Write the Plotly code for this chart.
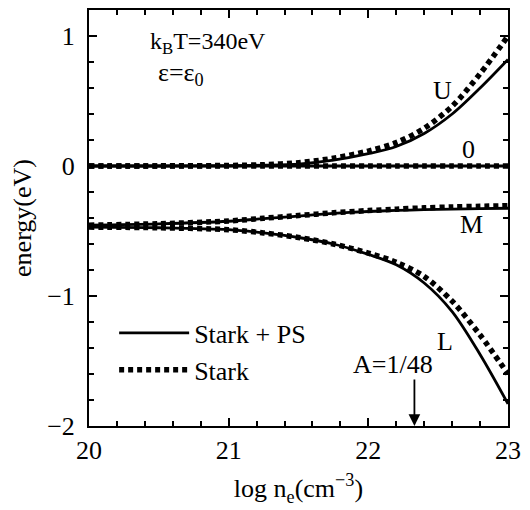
import plotly.graph_objects as go

# log electron density grid (cm^-3)
log_ne = [20.0, 20.5, 21.0, 21.25, 21.5, 21.75, 22.0, 22.2, 22.4, 22.6, 22.8, 23.0]

# Stark + PS (solid)
U_ps = [0.0, 0.0, 0.002, 0.006, 0.015, 0.045, 0.095, 0.15, 0.25, 0.40, 0.60, 0.82]
Z_ps = [0.0] * 12
M_ps = [-0.455, -0.445, -0.425, -0.405, -0.385, -0.365, -0.35, -0.342, -0.336, -0.332, -0.328, -0.325]
L_ps = [-0.47, -0.475, -0.49, -0.515, -0.55, -0.60, -0.68, -0.76, -0.90, -1.12, -1.45, -1.83]

# Stark only (dotted)
U_st = [0.0, 0.001, 0.004, 0.01, 0.025, 0.06, 0.115, 0.18, 0.29, 0.46, 0.71, 1.00]
Z_st = [0.0] * 12
M_st = [-0.455, -0.444, -0.423, -0.402, -0.381, -0.36, -0.343, -0.332, -0.322, -0.315, -0.31, -0.305]
L_st = [-0.47, -0.475, -0.49, -0.515, -0.55, -0.60, -0.67, -0.74, -0.85, -1.04, -1.30, -1.60]

level_labels = ["U", "0", "M", "L"]
label_x = [22.53, 22.72, 22.74, 22.55]
label_y = [0.58, 0.13, -0.45, -1.35]

FONT = "Liberation Serif, Times New Roman, DejaVu Serif, serif"
FS = 26
fig = go.Figure()

dot_sets = [U_st, Z_st, M_st, L_st]
solid_sets = [U_ps, Z_ps, M_ps, L_ps]
for i, ys in enumerate(dot_sets):
    fig.add_trace(go.Scatter(x=log_ne, y=ys, mode="lines",
                             line=dict(color="black", width=5.5, dash="5px,4px",
                                       shape="spline", smoothing=0.9),
                             name="Stark", showlegend=(i == 0), legendrank=2))
for i, ys in enumerate(solid_sets):
    fig.add_trace(go.Scatter(x=log_ne, y=ys, mode="lines",
                             line=dict(color="black", width=2.8,
                                       shape="spline", smoothing=0.9),
                             name="Stark + PS", showlegend=(i == 0), legendrank=1))

for t, x, y in zip(level_labels, label_x, label_y):
    fig.add_annotation(x=x, y=y, text=t, showarrow=False,
                       font=dict(family=FONT, size=FS, color="black"))

fig.add_annotation(x=20.42, y=0.95, xanchor="left", text="k<sub>B</sub>T=340eV", showarrow=False,
                   font=dict(family=FONT, size=24, color="black"))
fig.add_annotation(x=20.48, y=0.71, xanchor="left", text="ε=ε<sub>0</sub>", showarrow=False,
                   font=dict(family=FONT, size=FS, color="black"))

fig.add_annotation(x=22.33, y=-2.0, ax=22.33, ay=-1.63, axref="x", ayref="y",
                   xref="x", yref="y", text="", showarrow=True,
                   arrowhead=2, arrowsize=1.3, arrowwidth=1.8, arrowcolor="black")
fig.add_annotation(x=22.18, y=-1.53, text="A=1/48", showarrow=False,
                   font=dict(family=FONT, size=FS, color="black"))

axis_common = dict(showline=True, linecolor="black", linewidth=2, mirror="ticks",
                   ticks="inside", ticklen=8, tickwidth=1.5, tickcolor="black",
                   showgrid=False, zeroline=False,
                   tickfont=dict(family=FONT, size=FS, color="black"),
                   minor=dict(ticks="inside", ticklen=5, tickwidth=1.5, tickcolor="black"))

fig.update_xaxes(range=[20, 23], dtick=1, minor_dtick=0.2, ticklabelstandoff=0,
                 title=dict(text="log n<sub>e</sub>(cm<sup>−3</sup>)", standoff=15,
                            font=dict(family=FONT, size=FS, color="black")),
                 **axis_common)
fig.update_yaxes(range=[-2, 1.2], dtick=1, minor_dtick=0.2, ticklabelstandoff=7,
                 title=dict(text="energy(eV)", standoff=8,
                            font=dict(family=FONT, size=FS, color="black")),
                 **axis_common)

fig.update_layout(width=522, height=502,
                  margin=dict(l=81, r=22, t=0, b=84),
                  plot_bgcolor="white", paper_bgcolor="white",
                  legend=dict(x=0.06, y=0.28, xanchor="left", yanchor="top",
                              bgcolor="rgba(0,0,0,0)", borderwidth=0,
                              font=dict(family=FONT, size=FS, color="black"),
                              tracegroupgap=0, itemwidth=70))

fig.write_html("out.html")
